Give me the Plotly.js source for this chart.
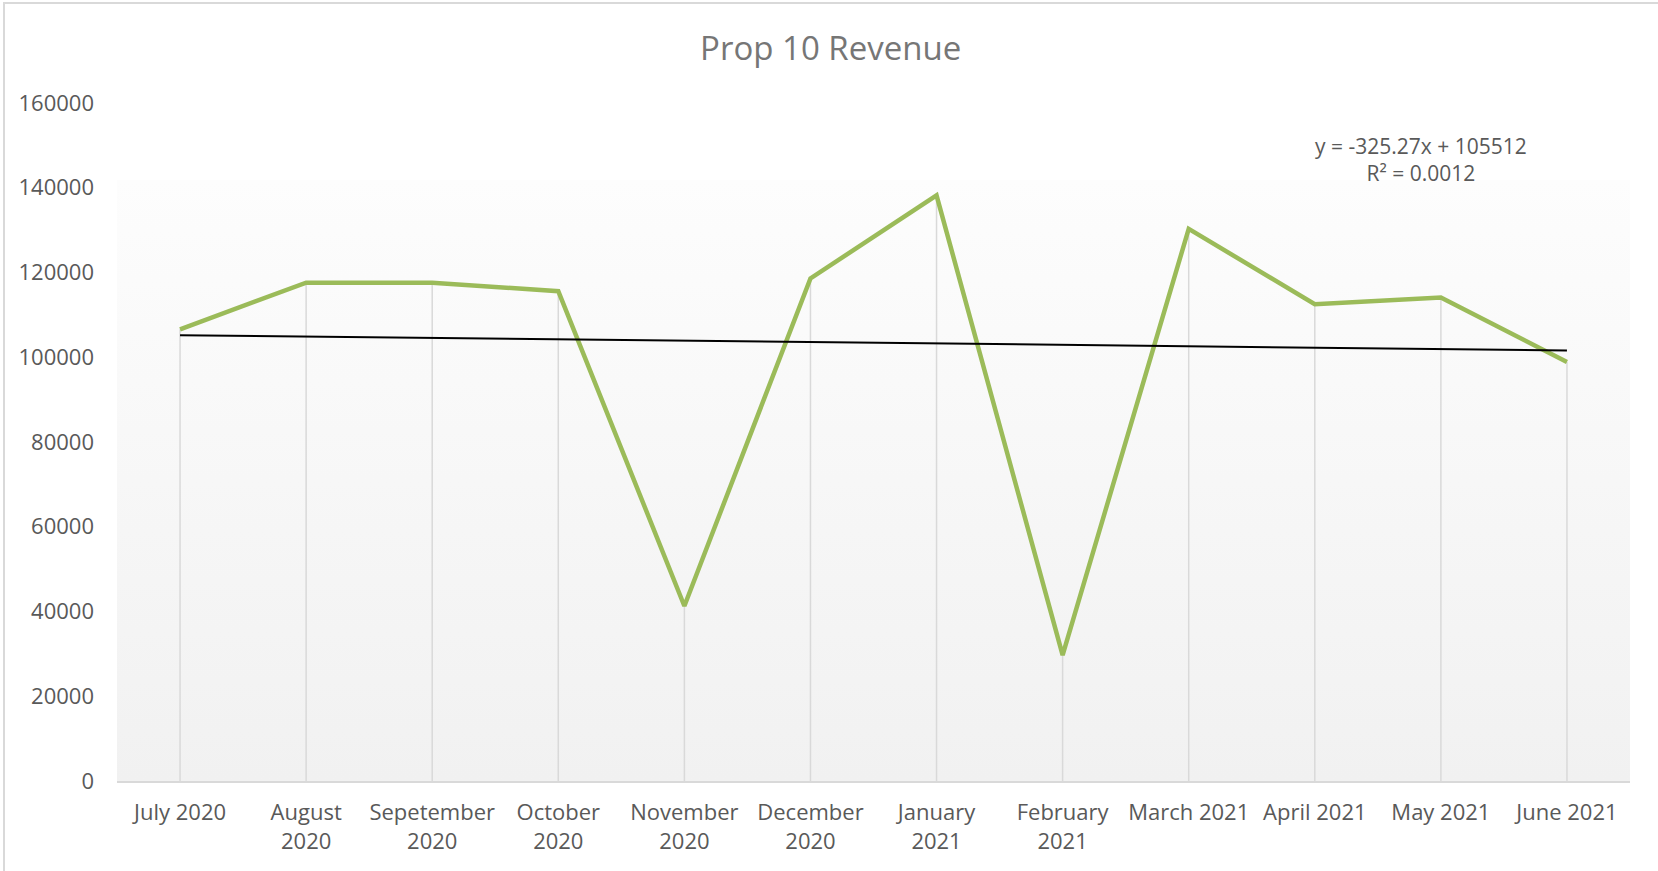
<!DOCTYPE html>
<html>
<head>
<meta charset="utf-8">
<script src="https://cdn.plot.ly/plotly-3.0.1.min.js"></script>
<style>
  html, body { margin: 0; padding: 0; background: #ffffff; }
  #chart { width: 1658px; height: 871px; }
  #frame { position: absolute; left: 3px; top: 2px; width: 1700px; height: 900px;
           border-left: 2px solid #d9d9d9; border-top: 2px solid #d9d9d9; pointer-events: none; }
</style>
</head>
<body>
<div id="chart"></div>
<div id="frame"></div>
<script>
// ---- data ----
const months = ["July 2020", "August<br>2020", "Sepetember<br>2020", "October<br>2020",
                "November<br>2020", "December<br>2020", "January<br>2021", "February<br>2021",
                "March 2021", "April 2021", "May 2021", "June 2021"];
const revenue = [106600, 117600, 117600, 115600, 41300, 118600, 138200, 29700,
                 130300, 112500, 114100, 98900];
const yTicks = [0, 20000, 40000, 60000, 80000, 100000, 120000, 140000, 160000];
const trendLabel = "y = -325.27x + 105512<br>R² = 0.0012";

// ---- linear trend (least squares on x = 1..n) ----
const n = revenue.length;
const xs = revenue.map((_, i) => i + 1);
const mx = xs.reduce((a, b) => a + b, 0) / n;
const my = revenue.reduce((a, b) => a + b, 0) / n;
let sxy = 0, sxx = 0;
for (let i = 0; i < n; i++) { sxy += (xs[i] - mx) * (revenue[i] - my); sxx += (xs[i] - mx) ** 2; }
const slope = sxy / sxx;
const intercept = my - slope * mx;
const trend = xs.map(x => intercept + slope * x);

const bgSvg = '<svg xmlns="http://www.w3.org/2000/svg" width="100" height="100" viewBox="0 0 100 100" preserveAspectRatio="none">' +
  '<defs><linearGradient id="g" x1="0" y1="0" x2="0" y2="1">' +
  '<stop offset="0" stop-color="#ffffff"/><stop offset="0.113" stop-color="#ffffff"/>' +
  '<stop offset="0.114" stop-color="#fdfdfd"/><stop offset="1" stop-color="#f1f1f1"/>' +
  '</linearGradient></defs><rect x="0" y="0" width="100" height="100" fill="url(#g)"/></svg>';
const bgUri = 'data:image/svg+xml;base64,' + btoa(bgSvg);

const font = "'Open Sans', 'Noto Sans', sans-serif";

const traces = [
  {
    x: months, y: revenue, type: 'scatter', mode: 'lines',
    line: { color: '#9bbb59', width: 4.5 },
    error_y: { type: 'data', symmetric: false, array: revenue.map(() => 0),
               arrayminus: revenue, width: 0, thickness: 1.5, color: '#d9d9d9' },
    hoverinfo: 'x+y'
  },
  {
    x: months, y: trend, type: 'scatter', mode: 'lines',
    line: { color: '#000000', width: 2 },
    hoverinfo: 'skip'
  }
];

const layout = {
  width: 1658, height: 871,
  margin: { l: 117, r: 28, t: 103, b: 90, pad: 0 },
  paper_bgcolor: '#ffffff',
  plot_bgcolor: 'rgba(0,0,0,0)',
  showlegend: false,
  font: { family: font, color: '#595959', size: 22 },
  title: { text: 'Prop 10 Revenue', font: { family: font, size: 33, color: '#767676' },
           x: 0.501, xanchor: 'center', y: 0.944, yanchor: 'middle' },
  xaxis: {
    type: 'category', range: [-0.5, 11.5], showgrid: false, zeroline: false,
    showline: true, linecolor: '#d9d9d9', linewidth: 2,
    ticks: '', tickfont: { family: font, size: 22, color: '#595959' },
    ticklabelstandoff: 11, fixedrange: true
  },
  yaxis: {
    range: [0, 160000], tickvals: yTicks, tickformat: 'd',
    showgrid: false, zeroline: false, showline: false, ticks: '',
    tickfont: { family: font, size: 22, color: '#595959' },
    ticklabelstandoff: 22, fixedrange: true
  },
  images: [{
    source: bgUri, xref: 'paper', yref: 'paper', x: 0, y: 1, sizex: 1, sizey: 1,
    xanchor: 'left', yanchor: 'top', sizing: 'stretch', layer: 'below'
  }],
  annotations: [{
    text: trendLabel, xref: 'paper', yref: 'paper', x: 0.862, y: 0.916,
    xanchor: 'center', yanchor: 'middle', showarrow: false, align: 'center',
    font: { family: font, size: 21, color: '#595959' }
  }]
};

Plotly.newPlot('chart', traces, layout, { displayModeBar: false, responsive: false });
</script>
</body>
</html>
